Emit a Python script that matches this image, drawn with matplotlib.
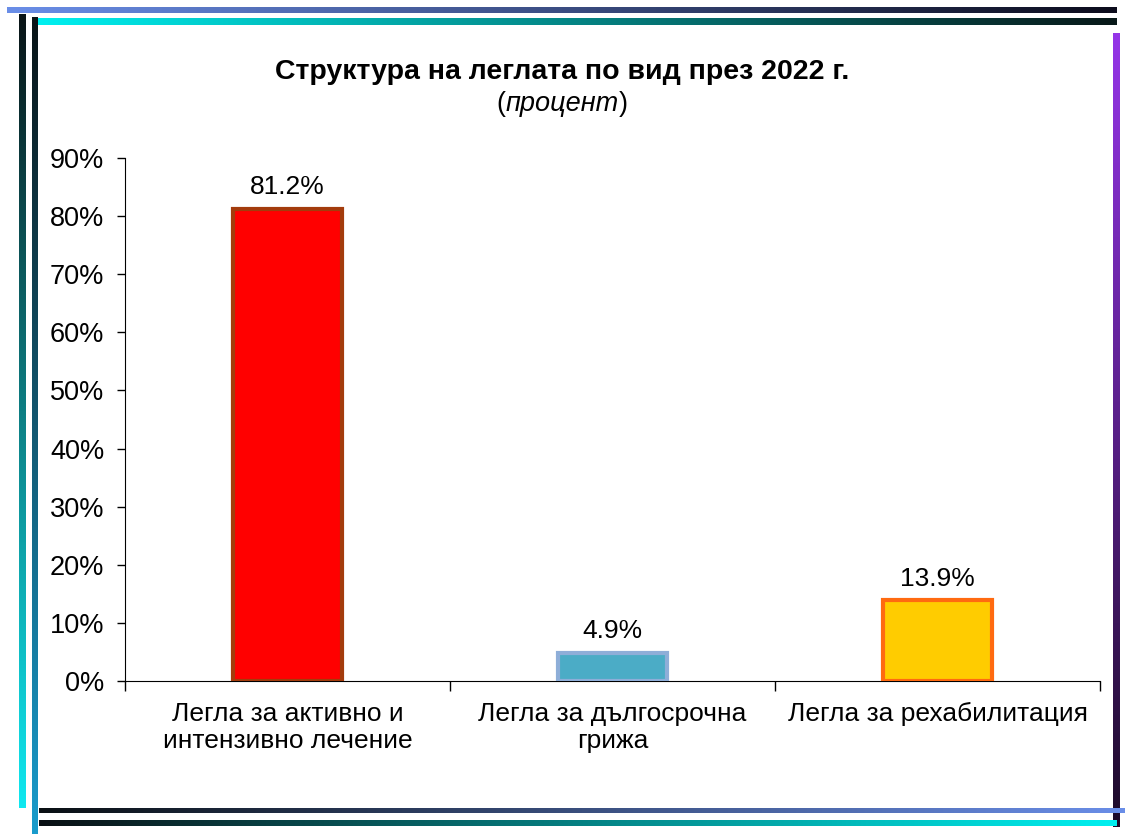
import matplotlib
matplotlib.use("Agg")
import matplotlib.pyplot as plt
import numpy as np
from matplotlib.colors import to_rgb

plt.rcParams['font.family'] = ['Liberation Sans', 'DejaVu Sans']

categories = ['Легла за активно и\nинтензивно лечение',
              'Легла за дългосрочна\nгрижа',
              'Легла за рехабилитация']
values = [81.2, 4.9, 13.9]
value_labels = ['81.2%', '4.9%', '13.9%']
fill_colors = ['#ff0000', '#4bacc6', '#ffcc00']
edge_colors = ['#a33c0c', '#8eaed8', '#ff6a10']

W, H = 1125, 834
fig = plt.figure(figsize=(W / 100, H / 100), dpi=100)
fig.patch.set_facecolor('white')

# background axes in pixel coordinates for the decorative frame
bg = fig.add_axes([0, 0, 1, 1], zorder=0)
bg.axis('off')


def grad_bar(x0, x1, y0, y1, c0, c1, horizontal=True):
    """Filled rectangle with a linear colour gradient (pixel coords)."""
    n = 256
    a, b = np.array(to_rgb(c0)), np.array(to_rgb(c1))
    t = np.linspace(0, 1, n)[:, None]
    cols = a * (1 - t) + b * t
    img = cols[None, :, :] if horizontal else cols[:, None, :]
    bg.imshow(img, extent=(x0, x1, y1, y0), aspect='auto',
              interpolation='bilinear')


grad_bar(7, 1117, 7, 13, '#6a8ee8', '#0c0c1c')
grad_bar(36, 1117, 18, 25, '#00f0f0', '#081818')
grad_bar(19, 26, 14, 808, '#0a1416', '#10e8f0', horizontal=False)
grad_bar(32, 38, 17, 834, '#0a1416', '#1a9ccc', horizontal=False)
grad_bar(1113, 1120, 33, 827, '#9535e8', '#1c0a28', horizontal=False)
grad_bar(39, 1125, 808, 813, '#0a1014', '#6a8ee8')
grad_bar(39, 1117, 820, 826, '#0a1014', '#00f0f0')
bg.set_xlim(0, W)
bg.set_ylim(H, 0)

ax = fig.add_axes([125 / W, 1 - 681 / H, (1100 - 125) / W, (681 - 158) / H],
                  zorder=1)
ax.patch.set_alpha(0)
x = np.arange(len(categories))
bars = ax.bar(x, values, width=0.335, color=fill_colors,
              edgecolor=edge_colors, linewidth=3, zorder=3)

for rect, lab in zip(bars, value_labels):
    ax.annotate(lab, xy=(rect.get_x() + rect.get_width() / 2, rect.get_height()),
                xytext=(0, 7), textcoords='offset points',
                ha='center', va='bottom', fontsize=19)

ax.set_xlim(-0.5, 2.5)
ax.set_ylim(0, 90)
ax.set_yticks(np.arange(0, 91, 10))
ax.set_yticklabels([f'{v}%' for v in range(0, 91, 10)], fontsize=19.5)
ax.set_xticks([-0.5, 0.5, 1.5, 2.5])
ax.set_xticklabels([])
ax.set_xticks(x, minor=True)
ax.set_xticklabels(categories, minor=True, fontsize=19, linespacing=1.17)
ax.tick_params(axis='x', which='minor', length=0, pad=15)
ax.tick_params(axis='x', which='major', length=7, width=1)
ax.tick_params(axis='y', length=6, width=1, pad=9)
for s in ['top', 'right']:
    ax.spines[s].set_visible(False)

fig.text(0.5, 1 - 72 / H, 'Структура на леглата по вид през 2022 г.',
         ha='center', va='center', fontsize=20.5, fontweight='bold')

# "(процент)" with the word in italics
renderer = fig.canvas.get_renderer()
parts = [('(', 'normal'), ('процент', 'italic'), (')', 'normal')]
texts = [fig.text(0, 1 - 104 / H, p, fontsize=19.5, style=s, va='center')
         for p, s in parts]
widths = [t.get_window_extent(renderer).width for t in texts]
xstart = W / 2 - sum(widths) / 2
for t, w in zip(texts, widths):
    t.set_x(xstart / W)
    xstart += w

fig.savefig('out.png', dpi=100)
